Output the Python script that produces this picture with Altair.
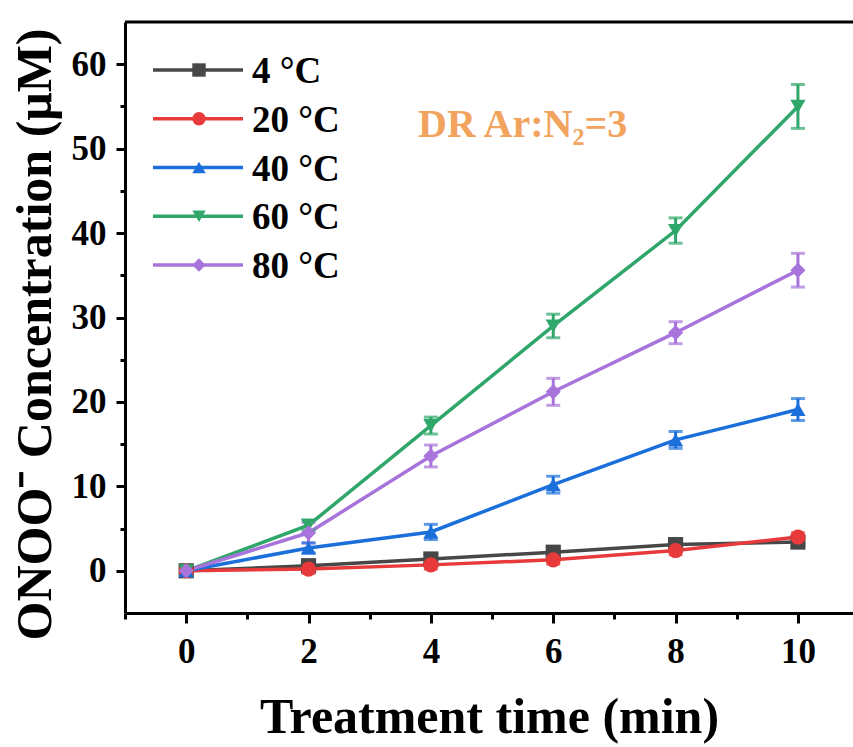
import altair as alt
import pandas as pd

# ---- data ----
times = [0, 2, 4, 6, 8, 10]
series = ["4 °C", "20 °C", "40 °C", "60 °C", "80 °C"]
values = {
    "4 °C":  [0.0, 0.6, 1.4, 2.2, 3.1, 3.4],
    "20 °C": [0.0, 0.2, 0.7, 1.3, 2.4, 4.0],
    "40 °C": [0.0, 2.7, 4.6, 10.2, 15.5, 19.1],
    "60 °C": [0.0, 5.4, 17.2, 29.0, 40.3, 55.0],
    "80 °C": [0.0, 4.5, 13.6, 21.2, 28.2, 35.6],
}
errors = {
    "4 °C":  [0.3, 0.4, 0.5, 0.5, 0.5, 0.6],
    "20 °C": [0.3, 0.5, 0.5, 0.5, 0.5, 0.5],
    "40 °C": [0.3, 0.6, 0.9, 1.0, 1.0, 1.3],
    "60 °C": [0.3, 0.6, 1.0, 1.4, 1.5, 2.6],
    "80 °C": [0.3, 1.2, 1.3, 1.6, 1.3, 2.0],
}
colors = ["#474747", "#E83A3A", "#1B6FDB", "#2FA66A", "#A874DB"]
shapes = ["square", "circle", "triangle-up", "triangle-down", "diamond"]
x_ticks = list(range(-1, 11))
y_ticks = list(range(0, 61, 5))
annotation = "DR Ar:N\u2082=3"

rows = []
for s in series:
    for t, v, e in zip(times, values[s], errors[s]):
        rows.append({"series": s, "t": t, "c": v, "lo": v - e, "hi": v + e})
df = pd.DataFrame(rows)
legend_df = pd.DataFrame({"series": series})

FONT = "Liberation Serif"
W, H = 728, 591

color_scale = alt.Scale(domain=series, range=colors)
shape_scale = alt.Scale(domain=series, range=shapes)
xs = alt.Scale(domain=[-1, 10.9], nice=False, zero=False)
ys = alt.Scale(domain=[-5, 65], nice=False, zero=False)

x_axis = alt.Axis(
    values=x_ticks, format="d",
    labelExpr="datum.value % 2 == 0 ? datum.label : ''",
    tickSize={"condition": {"test": "datum.value % 2 == 0", "value": 10}, "value": 6},
    title="Treatment time (min)", titleFontSize=50, titleY=119,
    titleBaseline="alphabetic", labelPadding=11,
)
y_axis = alt.Axis(
    values=y_ticks, format="d",
    labelExpr="datum.value % 10 == 0 ? datum.label : ''",
    tickSize={"condition": {"test": "datum.value % 10 == 0", "value": 9}, "value": 5},
    title="ONOO\u207b Concentration (\u03bcM)", titleFontSize=50,
    titleX=-90, titleY=312, titleBaseline="middle", titleAngle=-90,
    labelPadding=10,
)

base = alt.Chart(df)
X = alt.X("t:Q", scale=xs, axis=x_axis)
Y = alt.Y("c:Q", scale=ys, axis=y_axis)
C = alt.Color("series:N", scale=color_scale, legend=None)

lines = base.mark_line(strokeWidth=3.5).encode(x=X, y=Y, color=C)
err = base.mark_rule(strokeWidth=3).encode(
    x=alt.X("t:Q", scale=xs), y=alt.Y("lo:Q", scale=ys), y2="hi:Q", color=C)
cap_lo = base.mark_tick(orient="horizontal", size=14, thickness=3).encode(
    x=alt.X("t:Q", scale=xs), y=alt.Y("lo:Q", scale=ys), color=C)
cap_hi = base.mark_tick(orient="horizontal", size=14, thickness=3).encode(
    x=alt.X("t:Q", scale=xs), y=alt.Y("hi:Q", scale=ys), color=C)
pts = base.mark_point(filled=True, opacity=1, size=230, strokeWidth=0).encode(
    x=alt.X("t:Q", scale=xs), y=alt.Y("c:Q", scale=ys), color=C,
    shape=alt.Shape("series:N", scale=shape_scale, legend=None))

main = alt.layer(lines, err, cap_lo, cap_hi, pts)

# manual legend
LY = alt.Y("series:N",
           scale=alt.Scale(type="point", domain=series, range=[48, 243], padding=0),
           axis=None)
lb = alt.Chart(legend_df)
leg_line = lb.mark_rule(strokeWidth=3.5).encode(
    x=alt.value(28), x2=alt.value(118), y=LY, color=C)
leg_pt = lb.mark_point(filled=True, opacity=1, size=180, strokeWidth=0).encode(
    x=alt.value(74), y=LY, color=C,
    shape=alt.Shape("series:N", scale=shape_scale, legend=None))
leg_txt = lb.mark_text(align="left", baseline="middle", font=FONT, fontWeight="bold",
                       fontSize=37, color="black", dy=2).encode(
    x=alt.value(127), y=LY, text="series:N")

ann = alt.Chart(pd.DataFrame({"label": [annotation]})).mark_text(
    align="left", baseline="alphabetic", font=FONT, fontWeight="bold",
    fontSize=40, color="#F2A35E").encode(
    x=alt.value(293), y=alt.value(115), text="label:N")

top_line = alt.Chart(pd.DataFrame({"label": [annotation]})).mark_rule(
    strokeWidth=3, color="black").encode(
    x=alt.value(0), x2=alt.value(W), y=alt.value(0))

legend = alt.layer(leg_line, leg_pt, leg_txt, ann, top_line)

chart = alt.layer(main, legend).resolve_scale(y="independent").properties(
    width=W, height=H, background="white",
    autosize=alt.AutoSizeParams(type="none"),
    padding={"left": 125, "top": 22, "right": 0, "bottom": 134},
).configure_view(stroke=None).configure_axis(
    grid=False, domainColor="black", domainWidth=3, tickColor="black", tickWidth=3,
    labelFont=FONT, labelFontWeight="bold", labelFontSize=35, labelColor="black",
    titleFont=FONT, titleFontWeight="bold", titleColor="black",
)

chart.save("out.html", embed_options={"renderer": "svg", "actions": False})
